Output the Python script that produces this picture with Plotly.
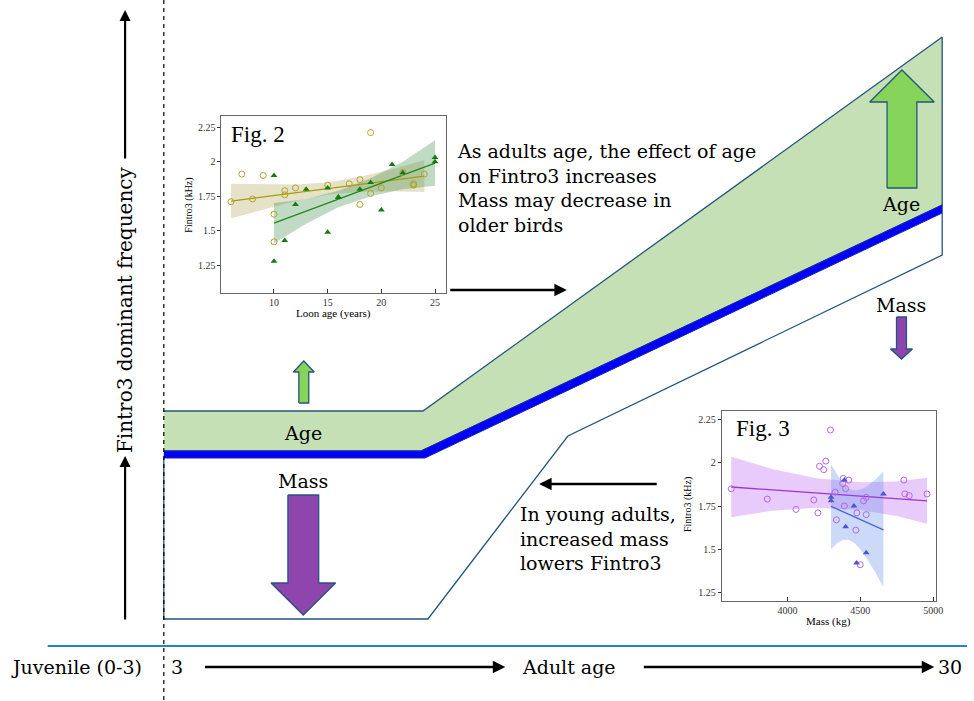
import plotly.graph_objects as go

# ---------------- Fig. 2: Fintro3 vs loon age ----------------
age_circ_x = [6, 7, 8, 9, 10, 10, 11, 11, 12, 15, 17, 18, 18, 19, 19, 20, 22, 23, 23, 24]
age_circ_y = [1.71, 1.91, 1.73, 1.90, 1.62, 1.42, 1.79, 1.76, 1.81, 1.83, 1.84, 1.87,
              1.69, 2.21, 1.77, 1.81, 1.92, 1.84, 1.83, 1.91]
age_tri_x = [10, 10, 11, 12, 13, 15, 15, 16, 16, 18, 19, 20, 21, 22, 25, 25]
age_tri_y = [1.90, 1.28, 1.43, 1.69, 1.80, 1.81, 1.49, 1.745, 1.74, 1.80, 1.85, 1.65,
             1.98, 1.92, 2.03, 2.00]
age_circ_fit_x = [6, 24]
age_circ_fit_y = [1.715, 1.895]
age_tri_fit_x = [10, 25]
age_tri_fit_y = [1.555, 1.99]
age_circ_band_x = [6, 9, 12, 15, 18, 21, 24]
age_circ_band_hi = [1.84, 1.835, 1.835, 1.85, 1.89, 1.945, 2.01]
age_circ_band_lo = [1.59, 1.655, 1.715, 1.76, 1.78, 1.785, 1.78]
age_tri_band_x = [10, 13, 16, 19, 22, 25]
age_tri_band_hi = [1.70, 1.73, 1.79, 1.88, 2.00, 2.155]
age_tri_band_lo = [1.41, 1.55, 1.67, 1.75, 1.80, 1.825]

# ---------------- Fig. 3: Fintro3 vs mass ----------------
mass_circ_x = [3615, 3862, 4059, 4181, 4209, 4220, 4249, 4263, 4295, 4327, 4336, 4379, 4383,
               4390, 4399, 4420, 4469, 4476, 4499, 4522, 4540, 4540, 4798, 4805, 4835, 4957]
mass_circ_y = [1.85, 1.79, 1.73, 1.785, 1.71, 1.98, 1.96, 2.01, 2.19, 1.83, 1.67, 1.88, 1.91,
               1.75, 1.85, 1.90, 1.61, 1.71, 1.41, 1.78, 1.70, 1.80, 1.90, 1.82, 1.81, 1.82]
mass_tri_x = [4299, 4299, 4390, 4399, 4456, 4474, 4540, 4658]
mass_tri_y = [1.80, 1.78, 1.90, 1.63, 1.75, 1.42, 1.48, 1.82]
mass_circ_fit_x = [3615, 4957]
mass_circ_fit_y = [1.86, 1.78]
mass_tri_fit_x = [4299, 4658]
mass_tri_fit_y = [1.748, 1.612]
mass_circ_band_x = [3615, 3900, 4200, 4500, 4750, 4957]
mass_circ_band_hi = [2.035, 1.963, 1.91, 1.887, 1.892, 1.913]
mass_circ_band_lo = [1.685, 1.723, 1.74, 1.727, 1.692, 1.647]
mass_tri_band_x = [4299, 4340, 4380, 4420, 4460, 4500, 4540, 4600, 4658]
mass_tri_band_hi = [1.99, 1.93, 1.88, 1.85, 1.84, 1.845, 1.86, 1.90, 1.95]
mass_tri_band_lo = [1.50, 1.535, 1.555, 1.555, 1.535, 1.50, 1.45, 1.37, 1.28]

inset_yticks = [1.25, 1.5, 1.75, 2, 2.25]
inset_yticktext = ["1.25", "1.5", "1.75", "2", "2.25"]

# ---------------- Conceptual diagram (canvas units) ----------------
age_band_x = [165, 426, 949, 949, 424, 165]
age_band_y = [411, 411, 37, 205, 451, 451]
freq_line_x = [165, 424, 949, 949, 428, 165]
freq_line_y = [451, 451, 205, 213, 458, 458]
mass_zone_x = [165, 165, 431, 572, 949, 949]
mass_zone_y = [458, 619, 619, 436, 255, 213]

SERIF = "DejaVu Serif"
TIMES = "Liberation Serif"
OUTLINE = "#24557f"

fig = go.Figure()


def block_arrow(cx, y_tail, y_tip, shaft_w, head_w, head_len, fill):
    d = 1 if y_tip > y_tail else -1
    y_base = y_tip - d * head_len
    xs = [cx - shaft_w / 2, cx - shaft_w / 2, cx - head_w / 2, cx, cx + head_w / 2,
          cx + shaft_w / 2, cx + shaft_w / 2, cx - shaft_w / 2]
    ys = [y_tail, y_base, y_base, y_tip, y_base, y_base, y_tail, y_tail]
    fig.add_trace(go.Scatter(x=xs, y=ys, mode="lines", fill="toself", fillcolor=fill,
                             line=dict(color=OUTLINE, width=1.3), hoverinfo="skip",
                             xaxis="x", yaxis="y"))


# Age (green) band and frequency line
fig.add_trace(go.Scatter(x=age_band_x, y=age_band_y, mode="lines", fill="toself",
                         fillcolor="#c5e0b4", line=dict(color=OUTLINE, width=1.3),
                         hoverinfo="skip"))
fig.add_trace(go.Scatter(x=freq_line_x, y=freq_line_y, mode="lines", fill="toself",
                         fillcolor="#0000ff", line=dict(color="#1a2a9a", width=1),
                         hoverinfo="skip"))
fig.add_trace(go.Scatter(x=mass_zone_x, y=mass_zone_y, mode="lines",
                         line=dict(color=OUTLINE, width=1.3), hoverinfo="skip"))

block_arrow(306, 403, 361, 10, 21, 11, "#86d45a")
block_arrow(305.5, 495, 615, 31, 65, 32, "#8e45ad")
block_arrow(908.5, 188, 70, 30, 65, 32, "#86d45a")
block_arrow(908, 317, 359, 10, 22, 10, "#8e45ad")

# ---------------- Fig. 2 traces ----------------
fig.add_trace(go.Scatter(x=age_circ_band_x + age_circ_band_x[::-1],
                         y=age_circ_band_hi + age_circ_band_lo[::-1], fill="toself",
                         fillcolor="rgba(189,178,110,0.38)", line=dict(width=0),
                         mode="lines", xaxis="x2", yaxis="y2", hoverinfo="skip"))
fig.add_trace(go.Scatter(x=age_tri_band_x + age_tri_band_x[::-1],
                         y=age_tri_band_hi + age_tri_band_lo[::-1], fill="toself",
                         fillcolor="rgba(60,140,70,0.32)", line=dict(width=0),
                         mode="lines", xaxis="x2", yaxis="y2", hoverinfo="skip"))
fig.add_trace(go.Scatter(x=age_circ_fit_x, y=age_circ_fit_y, mode="lines",
                         line=dict(color="#a89a0a", width=1.3), xaxis="x2", yaxis="y2"))
fig.add_trace(go.Scatter(x=age_tri_fit_x, y=age_tri_fit_y, mode="lines",
                         line=dict(color="#1f8a1f", width=1.3), xaxis="x2", yaxis="y2"))
fig.add_trace(go.Scatter(x=age_circ_x, y=age_circ_y, mode="markers",
                         marker=dict(symbol="circle-open", size=6, color="#b3a22a",
                                     line=dict(width=1)), xaxis="x2", yaxis="y2"))
fig.add_trace(go.Scatter(x=age_tri_x, y=age_tri_y, mode="markers",
                         marker=dict(symbol="triangle-up", size=6, color="#157a15"),
                         xaxis="x2", yaxis="y2"))

# ---------------- Fig. 3 traces ----------------
fig.add_trace(go.Scatter(x=mass_circ_band_x + mass_circ_band_x[::-1],
                         y=mass_circ_band_hi + mass_circ_band_lo[::-1], fill="toself",
                         fillcolor="rgba(205,140,245,0.45)", line=dict(width=0),
                         mode="lines", xaxis="x3", yaxis="y3", hoverinfo="skip"))
fig.add_trace(go.Scatter(x=mass_tri_band_x + mass_tri_band_x[::-1],
                         y=mass_tri_band_hi + mass_tri_band_lo[::-1], fill="toself",
                         fillcolor="rgba(110,150,235,0.35)", line=dict(width=0),
                         mode="lines", xaxis="x3", yaxis="y3", hoverinfo="skip"))
fig.add_trace(go.Scatter(x=mass_circ_fit_x, y=mass_circ_fit_y, mode="lines",
                         line=dict(color="#9b35d8", width=1.3), xaxis="x3", yaxis="y3"))
fig.add_trace(go.Scatter(x=mass_tri_fit_x, y=mass_tri_fit_y, mode="lines",
                         line=dict(color="#4a62d8", width=1.3), xaxis="x3", yaxis="y3"))
fig.add_trace(go.Scatter(x=mass_circ_x, y=mass_circ_y, mode="markers",
                         marker=dict(symbol="circle-open", size=6, color="#b466e8",
                                     line=dict(width=1)), xaxis="x3", yaxis="y3"))
fig.add_trace(go.Scatter(x=mass_tri_x, y=mass_tri_y, mode="markers",
                         marker=dict(symbol="triangle-up", size=6, color="#4a55d6"),
                         xaxis="x3", yaxis="y3"))

# ---------------- Lines and arrows ----------------
shapes = [
    dict(type="line", xref="x", yref="y", x0=165, x1=165, y0=0, y1=701,
         line=dict(color="black", width=1.2, dash="4px,4px")),
    dict(type="line", xref="x", yref="y", x0=48, x1=974, y0=646, y1=646,
         line=dict(color="#1f86cc", width=2)),
]

annotations = []


def arrow(x_tail, y_tail, x_tip, y_tip, width=2.5):
    annotations.append(dict(x=x_tip, y=y_tip, ax=x_tail, ay=y_tail, xref="x", yref="y",
                            axref="x", ayref="y", text="", showarrow=True, arrowhead=2,
                            arrowsize=1, arrowwidth=width, arrowcolor="black"))


def label(x, y, text, size=19, family=SERIF, xanchor="center", angle=0, align="center"):
    annotations.append(dict(x=x, y=y, xref="x", yref="y", text=text, showarrow=False,
                            xanchor=xanchor, yanchor="middle", textangle=angle, align=align,
                            font=dict(family=family, size=size, color="black")))


arrow(126, 160, 126, 10, 2.2)
arrow(126, 621, 126, 456, 2.2)
arrow(452, 290, 571, 290)
arrow(663, 484, 543, 484)
arrow(205, 667, 509, 667)
arrow(647, 667, 941, 667)

label(126, 310, "Fintro3 dominant frequency", size=20, angle=-90)
label(77, 667, "Juvenile (0-3)", size=19)
label(178, 667, "3", size=19)
label(573, 667, "Adult age", size=19)
label(957, 667, "30", size=19)
label(305, 433, "Age", size=19)
label(305, 481, "Mass", size=19)
label(908, 204, "Age", size=19)
label(908, 305, "Mass", size=19)
label(458, 188, "As adults age, the effect of age<br>on Fintro3 increases<br>"
                "Mass may decrease in<br>older birds", size=19, xanchor="left", align="left")
label(522, 538, "In young adults,<br>increased mass<br>lowers Fintro3", size=19,
      xanchor="left", align="left")

# inset captions and axis titles
label(231, 134, "Fig. 2", size=23, family=TIMES, xanchor="left")
label(739, 428, "Fig. 3", size=23, family=TIMES, xanchor="left")
label(190, 205, "Fintro3 (kHz)", size=10, family=TIMES, angle=-90)
label(336, 313, "Loon age (years)", size=11, family=TIMES)
label(693, 505, "Fintro3 (kHz)", size=10, family=TIMES, angle=-90)
label(834, 621, "Mass (kg)", size=11, family=TIMES)

inset_x = dict(showline=True, linecolor="#666", linewidth=1, mirror=True, ticks="inside",
               ticklen=4, tickcolor="#333", showgrid=False, zeroline=False,
               tickfont=dict(family=TIMES, size=10, color="#333"), fixedrange=True)
inset_y = dict(showline=True, linecolor="#666", linewidth=1, mirror=True, ticks="outside",
               ticklen=3, tickcolor="#333", showgrid=False, zeroline=False,
               tickvals=inset_yticks, ticktext=inset_yticktext,
               tickfont=dict(family=TIMES, size=10, color="#333"), fixedrange=True)

fig.update_layout(
    width=974, height=701, autosize=False,
    margin=dict(l=0, r=0, t=0, b=0),
    paper_bgcolor="white", plot_bgcolor="white",
    showlegend=False,
    xaxis=dict(domain=[0, 1], range=[0, 974], visible=False, fixedrange=True),
    yaxis=dict(domain=[0, 1], range=[701, 0], visible=False, fixedrange=True),
    xaxis2=dict(inset_x, domain=[223 / 974, 449 / 974], anchor="y2", range=[5.1, 26.0],
                tickvals=[10, 15, 20, 25]),
    yaxis2=dict(inset_y, domain=[1 - 293 / 701, 1 - 116 / 701], anchor="x2",
                range=[1.05, 2.33]),
    xaxis3=dict(inset_x, domain=[727 / 974, 943 / 974], anchor="y3", range=[3550, 5020],
                tickvals=[4000, 4500, 5000]),
    yaxis3=dict(inset_y, domain=[1 - 601 / 701, 1 - 411 / 701], anchor="x3",
                range=[1.2, 2.30]),
    shapes=shapes,
    annotations=annotations,
)

fig.write_html("out.html", config={"responsive": False, "displayModeBar": False})
